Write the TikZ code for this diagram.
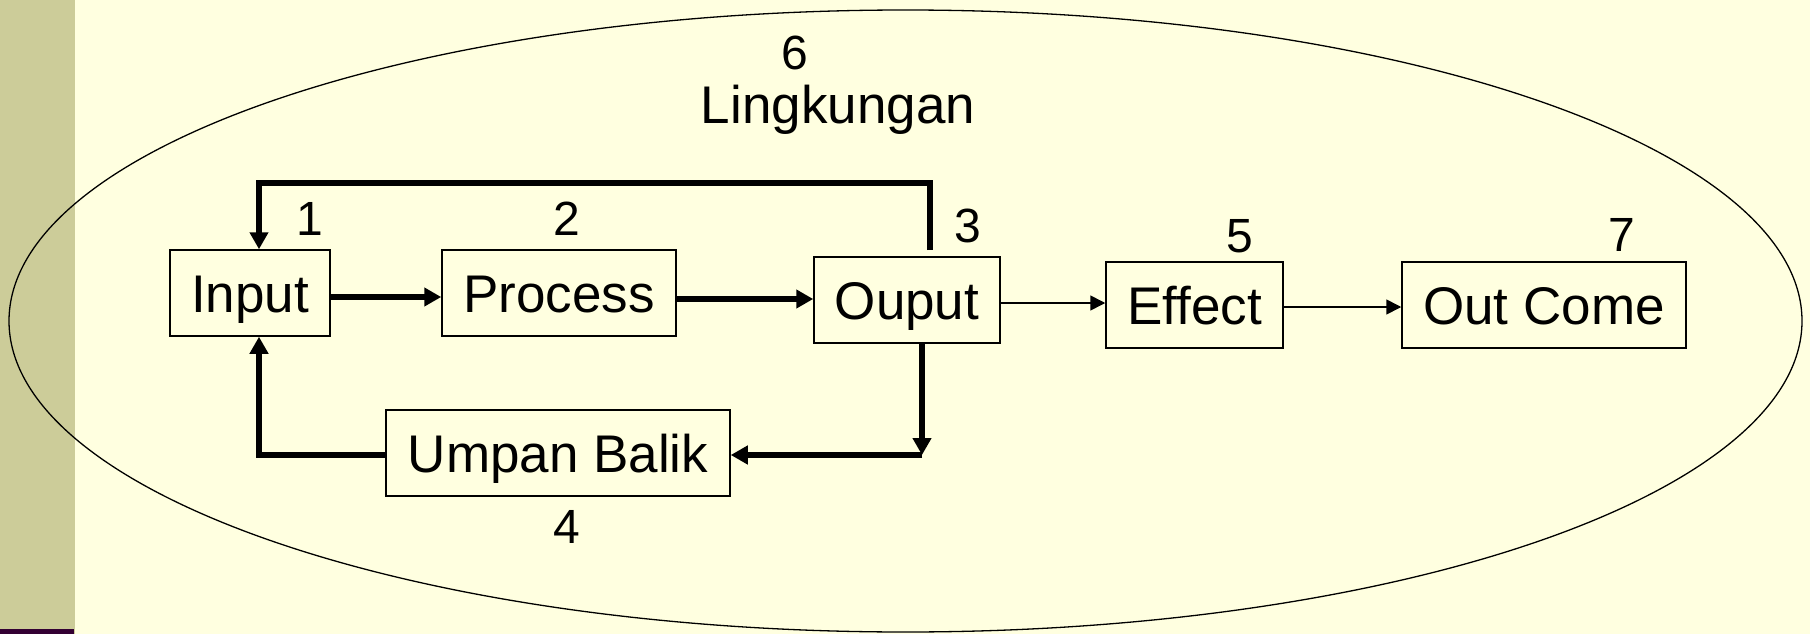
\documentclass[tikz,border=0pt]{standalone}
\usepackage{fontspec}
\setmainfont{Liberation Sans}
\usetikzlibrary{arrows.meta}
\definecolor{bgyellow}{RGB}{255,255,224}
\definecolor{bandolive}{RGB}{204,204,153}
\definecolor{stripplum}{RGB}{51,0,51}
\tikzset{
  box/.style={draw=black, line width=1.5pt, inner sep=0pt,
    font=\fontsize{53}{60}\selectfont, text height=38pt, text depth=0pt},
  numlbl/.style={inner sep=0pt, font=\fontsize{48}{54}\selectfont,
    text height=34.4pt, text depth=0pt},
  titlelbl/.style={inner sep=0pt, font=\fontsize{53}{60}\selectfont,
    text height=38pt, text depth=0pt},
  thickarrow/.style={line width=5.5pt, -{Triangle[length=17pt,width=18pt]}},
  thinarrow/.style={line width=1.6pt, -{Triangle[length=15pt,width=15pt]}},
  envellipse/.style={draw=black, line width=1.3pt}
}
\begin{document}
\begin{tikzpicture}[x=1pt,y=-1pt]
\useasboundingbox (0,0) rectangle (1810,634);
\fill[bgyellow] (0,0) rectangle (1810,634);
\fill[bandolive] (0,0) rectangle (75,634);
\fill[stripplum] (0,629) rectangle (74,634);
% environment
\draw[envellipse] (905.5,321) ellipse [x radius=896.5pt, y radius=311pt];
\node[numlbl] (n6) at (795,52) {6};
\node[titlelbl] (env) at (838,104) {Lingkungan};
% boxes
\node[box, minimum width=160pt, minimum height=86pt] (in) at (250,293) {Input};
\node[box, minimum width=234pt, minimum height=86pt] (proc) at (559,293) {Process};
\node[box, minimum width=186pt, minimum height=86pt] (out) at (907,300) {Ouput};
\node[box, minimum width=177pt, minimum height=86pt] (eff) at (1194.5,305) {Effect};
\node[box, minimum width=284pt, minimum height=86pt] (oc) at (1544,305) {Out Come};
\node[box, minimum width=344pt, minimum height=86pt] (ub) at (558,453) {Umpan Balik};
% numbers
\node[numlbl] (n1) at (310,218) {1};
\node[numlbl] (n2) at (567,218) {2};
\node[numlbl] (n3) at (968,225) {3};
\node[numlbl] (n4) at (567,526) {4};
\node[numlbl] (n5) at (1240,235) {5};
\node[numlbl] (n7) at (1622,234) {7};
% coordinates for feedback routes
\coordinate (tr) at (930,250);
\coordinate (tl) at (259,183);
\coordinate (bd) at (922,455);
\coordinate (bl) at (259,455);
% main flow
\draw[thickarrow] (in.east |- 0,297) -- (proc.west |- 0,297);
\draw[thickarrow] (proc.east |- 0,299) -- (out.west |- 0,299);
\draw[thinarrow] (out.east |- 0,303) -- (eff.west |- 0,303);
\draw[thinarrow] (eff.east |- 0,307) -- (oc.west |- 0,307);
% feedback above
\draw[thickarrow] (tr) |- (tl) -- (tl |- in.north);
% feedback below
\draw[thickarrow] (out.south -| bd) -- (bd);
\draw[thickarrow] (bd) -- (bd -| ub.east);
\draw[thickarrow] (bl -| ub.west) -- (bl) -- (bl |- in.south);
\end{tikzpicture}
\end{document}
